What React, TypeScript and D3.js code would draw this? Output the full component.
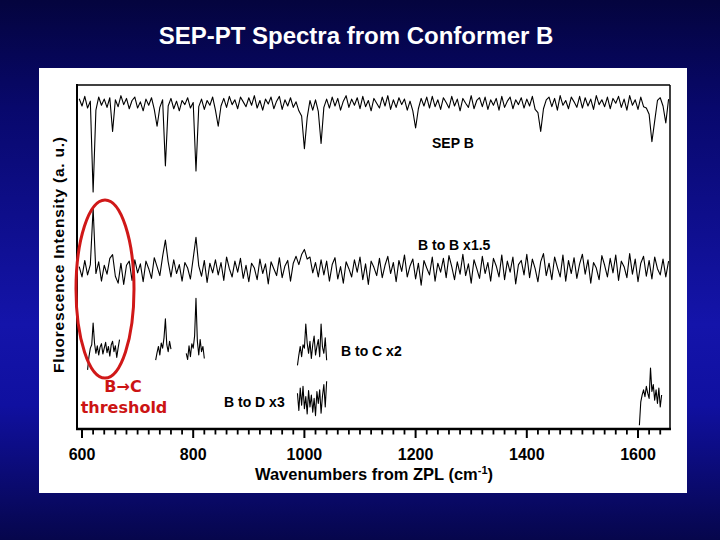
import React from "react";
import * as d3 from "d3";

// ---- data (intensity in arbitrary units, relative to each trace's offset) ----
const mainStart = 595; // cm-1
const mainStep = 5; // cm-1
const sepB = [
  15, -6, 22, -12, 8, -256, -18, 20, -4, 14,
  -10, 18, -80, 12, -8, 24, -2, 16, -14, 10,
  20, -12, 6, -20, 14, -4, 18, -16, -65, -10,
  12, -180, -6, 16, -14, 8, -20, 10, -2, 18,
  -12, 4, -195, -8, 14, -16, 10, -4, 20, -18,
  -65, -6, 16, -10, 22, -2, 12, -14, 20, 6,
  -8, 18, -4, 24, -12, 10, -18, 14, 0, 20,
  -14, 8, 22, -16, 12, -6, 18, -10, 6, -20,
  -35, -130, -40, 10, -18, 12, -22, -115, -10, 14,
  -12, 20, -6, 16, -18, 8, 24, -10, 14, -4,
  18, -14, 22, -8, 10, -20, 16, 2, -12, 20,
  -6, 24, -16, 12, -10, 18, -2, 14, -18, 8,
  -20, -70, -14, 16, -6, 20, -12, 22, -8, 12,
  -16, 18, 4, -12, 22, -6, 14, -20, 16, 2,
  -10, 24, -14, 10, 18, -8, 20, -16, 12, -4,
  16, -18, 22, -10, 8, 20, -14, 12, -2, 18,
  -12, 14, -6, 22, -16, -25, -80, -14, 12, 20,
  -8, 16, -18, 24, -4, 10, -14, 20, 6, -10,
  22, -12, 18, -6, 14, -16, 24, -2, 12, -8,
  20, -14, 16, 2, 22, -10, 14, -18, 24, -4,
  12, -16, 20, -8, -12, -30, -110, -50, 10, 18,
  -6, -55, 14,
];
const bToB = [
  10, -20, 28, -14, 16, 180, -10, 24, -32, 14,
  -12, 34, 45, -18, -38, 20, -42, 14, 26, -30,
  30, -8, 18, -34, 26, 4, -24, 36, 10, -16,
  40, 87, 24, -20, 30, -10, 16, -32, 22, 6,
  -26, 34, 95, 12, -18, 28, -36, 20, -8, 30,
  -14, 22, -30, 38, 4, -20, 26, -6, 34, -24,
  14, -34, 20, 6, -28, 32, -10, 18, -40, 24,
  4, -16, 36, -22, 12, 28, -32, 20, 40, 16,
  45, 60, 32, 38, -8, 22, -20, 30, -14, 26,
  -32, 16, 36, -26, 10, -38, 24, 4, -20, 30,
  -6, 38, -28, 18, -42, 26, 8, -16, 34, -22,
  14, 40, -10, 22, -34, 28, -4, 44, -20, 12,
  32, -26, 20, -44, 28, 6, -14, 38, -32, 20,
  -6, 34, -22, 42, 10, -28, 24, -12, 46, -16,
  18, -38, 30, 4, -24, 40, -10, 22, -32, 34,
  12, -20, 44, -28, 26, -6, 38, -40, 16, 28,
  -14, 46, -22, 32, 4, -34, 24, 48, -16, 20,
  -28, 38, 8, -20, 44, -32, 28, -10, 36, -24,
  18, 46, -12, 30, -38, 22, 6, -28, 42, 14,
  -20, 34, -8, 44, -30, 26, 10, -22, 48, -12,
  32, -34, 20, 40, -18, 28, -26, 38, 4, -14,
  32, -20, 26,
];

const segStep = 2.5; // cm-1
const bToCStarts = [610, 732.5, 787.5, 987.5];
const bToCValues = [
  [-58, -20, 5, 15, 78, 20, -10, 12, -15, 8, 18, -12, 5, 22, -8, 10, -18, 14, 25, -5, 12, -22, 6, 30],
  [-30, -8, 10, -15, 20, 5, 35, 90, 15, -5, 25, 2],
  [-10, -28, 12, -20, 18, 5, 40, 150, 25, -15, 30, -5, 10, -25],
  [-45, -15, 10, -20, 15, 5, 75, 20, -10, 25, -25, 15, 40, -15, 10, 30, -20, 75, 8, -10, 35, -30],
];
const bToDStarts = [987.5, 1602.5];
const bToDValues = [
  [20, -30, 35, -15, 40, -25, 10, -40, 28, -20, 15, -35, 5, -45, 25, -10, 30, -38, 12, 45, -20, 55],
  [-73, -5, 15, 30, 10, 40, 20, 5, 93, 25, 45, 0, 30, -10, 35, -20, 15],
];

const traceOffsets = { sepB: 945, bToB: 462, bToC: 230, bToD: 84 };
const traceLabels = ["SEP B", "B to B x1.5", "B to C x2", "B to D x3"];
const majorTicks = [600, 800, 1000, 1200, 1400, 1600];

export default function App() {
  const x = d3.scaleLinear().domain([600, 1600]).range([82, 638]);
  const y = d3.scaleLinear().domain([0, 1000]).range([429, 85]);
  const line = d3
    .line<[number, number]>()
    .x((d) => x(d[0]))
    .y((d) => y(d[1]));

  const toPts = (start: number, step: number, vals: number[], off: number) =>
    vals.map((v, i) => [start + step * i, v + off] as [number, number]);

  const paths: string[] = [];
  paths.push(line(toPts(mainStart, mainStep, sepB, traceOffsets.sepB)) || "");
  paths.push(line(toPts(mainStart, mainStep, bToB, traceOffsets.bToB)) || "");
  bToCValues.forEach((vals, k) =>
    paths.push(line(toPts(bToCStarts[k], segStep, vals, traceOffsets.bToC)) || "")
  );
  bToDValues.forEach((vals, k) =>
    paths.push(line(toPts(bToDStarts[k], segStep, vals, traceOffsets.bToD)) || "")
  );

  const minorTicks = d3.range(600, 1660, 20).filter((t) => t % 200 !== 0);
  const sans = "'Liberation Sans', Arial, sans-serif";

  return (
    <div style={{ position: "absolute", left: 0, top: 0 }}>
      <svg width={720} height={540} style={{ display: "block" }}>
        <defs>
          <linearGradient id="bg" x1="0" y1="0" x2="0" y2="1">
            <stop offset="0" stopColor="#04043e" />
            <stop offset="0.2" stopColor="#08086c" />
            <stop offset="0.6" stopColor="#1414aa" />
            <stop offset="0.75" stopColor="#1010a0" />
            <stop offset="1" stopColor="#06064c" />
          </linearGradient>
        </defs>
        <rect x={0} y={0} width={720} height={540} fill="url(#bg)" />
        <text
          x={356}
          y={44}
          textAnchor="middle"
          fill="#ffffff"
          fontFamily={sans}
          fontWeight="bold"
          fontSize={24}
        >
          SEP-PT Spectra from Conformer B
        </text>
        <rect x={39} y={68} width={648} height={425} fill="#ffffff" />

        {/* frame */}
        <line x1={77} y1={85} x2={670} y2={85} stroke="#000" strokeWidth={1.5} />
        <line x1={670} y1={85} x2={670} y2={429} stroke="#000" strokeWidth={1.5} />
        <line x1={77} y1={84} x2={77} y2={430} stroke="#000" strokeWidth={2} />
        <line x1={76} y1={429} x2={671} y2={429} stroke="#000" strokeWidth={2.5} />

        {majorTicks.map((t) => (
          <g key={"M" + t}>
            <line x1={x(t)} y1={429} x2={x(t)} y2={438} stroke="#000" strokeWidth={2} />
            <text
              x={x(t)}
              y={460}
              textAnchor="middle"
              fontFamily={sans}
              fontWeight="bold"
              fontSize={16}
              fill="#000"
            >
              {t}
            </text>
          </g>
        ))}
        {minorTicks.map((t) => (
          <line key={"m" + t} x1={x(t)} y1={429} x2={x(t)} y2={434.5} stroke="#000" strokeWidth={1.8} />
        ))}

        <text x={374} y={480} textAnchor="middle" fontFamily={sans} fontWeight="bold" fontSize={16.5} fill="#000">
          Wavenumbers from ZPL (cm
          <tspan dy={-6} fontSize={11}>-1</tspan>
          <tspan dy={6}>)</tspan>
        </text>
        <text
          transform="translate(64,255) rotate(-90)"
          textAnchor="middle"
          fontFamily={sans}
          fontWeight="bold"
          fontSize={15.5}
          textLength={236}
          lengthAdjust="spacing"
          fill="#000"
        >
          Fluorescence Intensity (a. u.)
        </text>

        {paths.map((d, i) => (
          <path key={i} d={d} fill="none" stroke="#000" strokeWidth={1.1} strokeLinejoin="round" />
        ))}

        <g fontFamily={sans} fontWeight="bold" fontSize={14} fill="#000">
          <text x={432} y={148}>{traceLabels[0]}</text>
          <text x={418} y={250}>{traceLabels[1]}</text>
          <text x={341} y={356}>{traceLabels[2]}</text>
          <text x={224} y={407}>{traceLabels[3]}</text>
        </g>

        <ellipse cx={105} cy={289} rx={29} ry={89} fill="none" stroke="#d01818" strokeWidth={3} />
        <g fontFamily="'DejaVu Sans', Verdana, sans-serif" fontWeight="bold" fontSize={16} fill="#cc1414" textAnchor="middle">
          <text x={123} y={392}>B→C</text>
          <text x={124} y={413}>threshold</text>
        </g>
      </svg>
    </div>
  );
}
